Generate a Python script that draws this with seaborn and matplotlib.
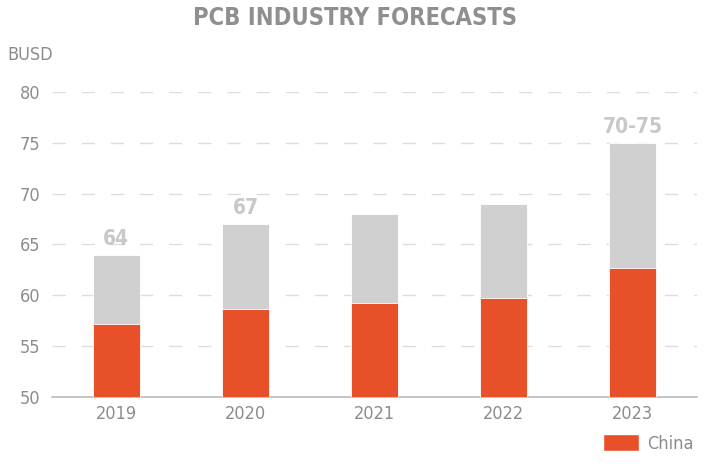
import matplotlib
matplotlib.use("Agg")
import matplotlib.pyplot as plt
import seaborn as sns
import pandas as pd
from matplotlib.patches import Patch

# data
years = ["2019", "2020", "2021", "2022", "2023"]
total = [64, 67, 68, 69, 75]
china = [57.2, 58.7, 59.2, 59.7, 62.7]
top_labels = ["64", "67", "", "", "70-75"]
y_ticks = [50, 55, 60, 65, 70, 75, 80]

df = pd.DataFrame({"year": years, "total": total, "china": china})

sns.set_style("white")
plt.rcParams['font.family'] = ['DejaVu Sans']
plt.rcParams['font.stretch'] = 'condensed'

grey_txt = "#8c8c8c"
orange = "#e8502a"
light = "#d0d0d0"

fig = plt.figure(figsize=(7.1, 4.69), dpi=100)
ax = fig.add_axes([0.073, 0.1535, 0.909, 0.6505])

sns.barplot(data=df, x="year", y="total", color=light, width=0.36, saturation=1,
            edgecolor="white", linewidth=0.6, ax=ax, zorder=3)
sns.barplot(data=df, x="year", y="china", color=orange, width=0.36, saturation=1,
            edgecolor="white", linewidth=0.6, ax=ax, zorder=4)

# labels above bars
for i, (v, lab) in enumerate(zip(total, top_labels)):
    if lab:
        ax.text(i, v + 0.6, lab, ha="center", va="bottom", fontsize=15,
                fontweight="bold", color="#c8c8c8", fontstretch="condensed")

ax.set_ylim(50, 80)
ax.set_xlim(-0.5, 4.5)
ax.set_yticks(y_ticks)
ax.set_xlabel("")
ax.set_ylabel("")
ax.grid(axis="y", color="#dddddd", linestyle=(0, (9.5, 11.5)), linewidth=1, zorder=0)
ax.grid(axis="x", visible=False)
for s in ["top", "right", "left"]:
    ax.spines[s].set_visible(False)
ax.spines["bottom"].set_color("#bbbbbb")
ax.spines["bottom"].set_linewidth(1.2)
ax.tick_params(axis="both", length=0, labelsize=13, colors=grey_txt)
ax.tick_params(axis="x", pad=6)
ax.tick_params(axis="y", pad=8)

fig.text(0.5, 0.962, "PCB INDUSTRY FORECASTS", ha="center", va="center",
         fontsize=17, fontweight="bold", color="#8f8f8f", fontstretch="condensed")
fig.text(0.011, 0.882, "BUSD", ha="left", va="center", fontsize=13, color=grey_txt,
         fontstretch="condensed")

leg = fig.legend(handles=[Patch(facecolor=orange, edgecolor="white", label="China")],
                 loc="lower right", bbox_to_anchor=(1.0, 0.0), frameon=False,
                 fontsize=13, handlelength=2.0, handleheight=1.05,
                 handletextpad=0.45, labelcolor=grey_txt)

fig.savefig("out.png", dpi=100)
